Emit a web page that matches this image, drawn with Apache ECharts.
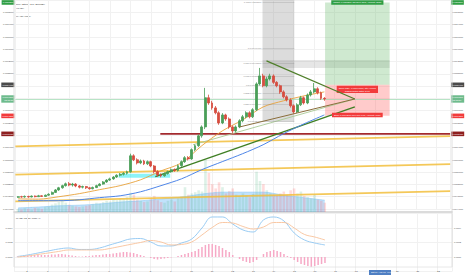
<!DOCTYPE html>
<html>
<head>
<meta charset="utf-8">
<script src="https://cdn.jsdelivr.net/npm/echarts@6.0.0/dist/echarts.min.js"></script>
<style>
html,body{margin:0;padding:0;background:#ffffff;}
#chart{width:466px;height:275px;}
</style>
</head>
<body>
<div id="chart"></div>
<script>
// ---------------- data (NEO/BTC, 4h candles) ----------------
const opens = [0.00478,0.00480,0.00479,0.00481,0.00479,0.00482,0.00480,0.00483,0.00481,0.00485,
0.00488,0.00494,0.00502,0.00509,0.00516,0.00522,0.00518,0.00521,0.00515,0.00511,
0.00513,0.00509,0.00506,0.00510,0.00516,0.00521,0.00528,0.00534,0.00538,0.00544,
0.00550,0.00553,0.00556,0.00561,0.00613,0.00600,0.00590,0.00596,0.00587,0.00594,
0.00580,0.00562,0.00551,0.00548,0.00555,0.00561,0.00568,0.00565,0.00581,0.00594,
0.00607,0.00603,0.00633,0.00646,0.00678,0.00707,0.00802,0.00785,0.00769,0.00753,
0.00720,0.00746,0.00733,0.00707,0.00694,0.00707,0.00727,0.00740,0.00753,0.00740,
0.00763,0.00847,0.00873,0.00841,0.00863,0.00873,0.00852,0.00841,0.00821,0.00805,
0.00795,0.00776,0.00756,0.00779,0.00802,0.00785,0.00811,0.00821,0.00831,0.00818,
0.00800];
const closes = [0.00480,0.00479,0.00481,0.00479,0.00482,0.00480,0.00483,0.00481,0.00485,0.00488,
0.00494,0.00502,0.00509,0.00516,0.00522,0.00518,0.00521,0.00515,0.00511,0.00513,
0.00509,0.00506,0.00510,0.00516,0.00521,0.00528,0.00534,0.00538,0.00544,0.00550,
0.00553,0.00556,0.00561,0.00613,0.00600,0.00590,0.00596,0.00587,0.00594,0.00580,
0.00562,0.00551,0.00548,0.00555,0.00561,0.00568,0.00565,0.00581,0.00594,0.00607,
0.00603,0.00633,0.00646,0.00678,0.00707,0.00802,0.00785,0.00769,0.00753,0.00720,
0.00746,0.00733,0.00707,0.00694,0.00707,0.00727,0.00740,0.00753,0.00740,0.00763,
0.00847,0.00873,0.00841,0.00863,0.00873,0.00852,0.00841,0.00821,0.00805,0.00795,
0.00776,0.00756,0.00779,0.00802,0.00785,0.00811,0.00821,0.00831,0.00818,0.00800,
0.00798];
const lows = [0.00476,0.00477,0.00477,0.00477,0.00478,0.00478,0.00479,0.00479,0.00480,0.00483,
0.00486,0.00492,0.00499,0.00506,0.00513,0.00514,0.00513,0.00511,0.00507,0.00507,
0.00505,0.00503,0.00504,0.00508,0.00514,0.00519,0.00525,0.00531,0.00535,0.00541,
0.00546,0.00549,0.00552,0.00558,0.00596,0.00585,0.00586,0.00583,0.00583,0.00576,
0.00556,0.00545,0.00543,0.00545,0.00552,0.00558,0.00561,0.00562,0.00577,0.00590,
0.00598,0.00600,0.00628,0.00642,0.00672,0.00700,0.00779,0.00763,0.00748,0.00714,
0.00716,0.00727,0.00701,0.00685,0.00689,0.00703,0.00722,0.00735,0.00735,0.00736,
0.00759,0.00842,0.00836,0.00836,0.00858,0.00847,0.00836,0.00815,0.00800,0.00790,
0.00770,0.00750,0.00752,0.00775,0.00780,0.00781,0.00806,0.00816,0.00813,0.00795,
0.00792];
const highs = [0.00482,0.00483,0.00484,0.00483,0.00484,0.00484,0.00486,0.00485,0.00487,0.00491,
0.00497,0.00505,0.00512,0.00519,0.00526,0.00528,0.00525,0.00524,0.00518,0.00516,
0.00515,0.00512,0.00513,0.00519,0.00524,0.00531,0.00537,0.00542,0.00547,0.00553,
0.00557,0.00560,0.00565,0.00620,0.00618,0.00605,0.00601,0.00600,0.00598,0.00597,
0.00583,0.00566,0.00556,0.00559,0.00565,0.00572,0.00572,0.00585,0.00598,0.00612,
0.00612,0.00637,0.00650,0.00683,0.00712,0.00834,0.00812,0.00792,0.00775,0.00758,
0.00752,0.00750,0.00738,0.00712,0.00712,0.00732,0.00746,0.00758,0.00758,0.00768,
0.00852,0.00899,0.00880,0.00870,0.00880,0.00878,0.00856,0.00845,0.00826,0.00810,
0.00800,0.00780,0.00784,0.00808,0.00806,0.00816,0.00827,0.00850,0.00836,0.00822,
0.00804];
const volumes = [5,4,6,5,4,7,6,5,8,9,
12,14,16,18,15,12,10,9,8,9,
10,11,13,15,14,16,18,17,20,19,
22,21,24,31,28,20,18,16,17,22,
26,19,16,15,18,20,17,22,25,40,
28,30,32,35,33,84,63,45,38,48,
40,30,34,38,28,26,30,27,24,29,
65,50,45,35,30,28,26,30,33,28,
35,38,30,33,26,24,22,28,20,18,
15];
// daily samples (every 6th candle)
const ma20 = [0.00473,0.00472,0.00480,0.00490,0.00503,0.00516,0.00535,0.00564,0.00590,0.00646,0.00694,0.00730,0.00772,0.00792,0.00808,0.00821];
const ma50 = [0.00467,0.00467,0.00467,0.00470,0.00477,0.00483,0.00496,0.00516,0.00538,0.00568,0.00594,0.00620,0.00649,0.00685,0.00717,0.00746];
const volumeMA = [6.5,8,10,11,13,16,18,21,24,29,32,32,32,27,23,19];
// MACD (12, 26, close, 9) sampled every 3rd candle
const macdLine = [0.000007,0.000028,0.000055,0.000083,0.000110,0.000124,0.000104,0.000104,0.000124,0.000166,0.000207,0.000248,0.000255,0.000207,0.000152,0.000152,0.000193,0.000248,0.000400,0.000552,0.000552,0.000455,0.000373,0.000345,0.000511,0.000552,0.000497,0.000331,0.000235,0.000193,0.000166];
const signalLine = [0,0.000014,0.000035,0.000055,0.000076,0.000097,0.000097,0.000097,0.000097,0.000117,0.000145,0.000173,0.000200,0.000228,0.000207,0.000166,0.000173,0.000207,0.000304,0.000407,0.000476,0.000469,0.000421,0.000386,0.000414,0.000476,0.000476,0.000400,0.000311,0.000276,0.000235];
const macdHist = [0.000007,0.000014,0.000014,0.000021,0.000021,0.000028,0.000028,0.000028,0.000028,
0.000028,0.000035,0.000035,0.000041,0.000041,0.000035,0.000028,0.000021,0.000014,
0.000007,0.000007,0.000014,0.000014,0.000021,0.000028,0.000028,0.000035,0.000041,
0.000041,0.000048,0.000055,0.000062,0.000069,0.000069,0.000062,0.000055,0.000041,
0.000028,0.000014,0,-0.000014,-0.000028,-0.000035,-0.000028,-0.000021,-0.000014,
-0.000007,0,0.000014,0.000028,0.000041,0.000055,0.000069,0.000083,0.000110,
0.000138,0.000166,0.000179,0.000179,0.000166,0.000152,0.000124,0.000097,0.000069,
0.000028,0,-0.000028,-0.000055,-0.000069,-0.000083,-0.000069,-0.000041,0,
0.000041,0.000069,0.000083,0.000097,0.000083,0.000069,0.000041,0.000014,-0.000014,
-0.000041,-0.000069,-0.000097,-0.000110,-0.000124,-0.000138,-0.000124,-0.000110,-0.000097,
-0.000083];

// drawings: [day of August 2017, price]
const yellowLine1 = [[1.368,0.00644],[22.66,0.00677]];
const yellowLine2 = [[1.368,0.00552],[22.66,0.00586]];
const yellowLine3 = [[1.368,0.00465],[22.66,0.00498]];
const resistanceLine = [[8.466,0.006845],[22.66,0.006845]];
const triangleTop = [[13.667,0.00922],[17.994,0.00798]];
const triangleBottom = [[12.355,0.00707],[17.994,0.00798]];
const sageLine = [[10.07,0.00649],[17.994,0.00798]];
const supportLine = [[8.223,0.00545],[17.994,0.00772]];
const cyanZone = [[6.424,0.00555],[8.952,0.00542]];
const fibRange = [13.473,15.029];
const fibLevels = ['0','0.236','0.382','0.5','0.618','0.786','1','1.618'];
const fibPrices = [0.00724,0.00780,0.00816,0.00844,0.00871,0.00913,0.00964,0.01113];
const fibBand = [[13.473,0.00925],[19.696,0.00899]];
const positionRange = [16.536,19.696];
const targetPrice = 0.01112, entryPrice = 0.00844, stopPrice = 0.00743;
const resistancePrice = 0.006845;

// ---------------- helpers ----------------
const DAY = 86400000, H4 = 4 * 3600000;
const day0 = new Date(2017, 7, 1).getTime();
const t = d => day0 + (d - 1) * DAY;
const candleTimes = opens.map((_, i) => t(1.5) + i * H4);
const dailyTimes = ma20.map((_, k) => candleTimes[k * 6]);
const macdTimes = macdLine.map((_, k) => candleTimes[k * 3]);
const lastClose = closes[closes.length - 1];
const FONT = 'Liberation Sans';
const FS = 2.3;
const px = v => v.toFixed(7);

const X_MIN = t(1.368), X_MAX = t(22.66);
function timeAxis(grid, opts) {
  return Object.assign({
    type: 'time', gridIndex: grid, min: X_MIN, max: X_MAX,
    minInterval: DAY, maxInterval: DAY,
    axisLine: {show: false}, axisTick: {show: false},
    axisLabel: {show: false},
    splitLine: {show: true, lineStyle: {color: '#f1f1f1', width: 1}}
  }, opts || {});
}

function seg(name, pts, color, width, z) {
  return {
    name, type: 'line', xAxisIndex: 0, yAxisIndex: 0,
    data: pts.map(p => [t(p[0]), p[1]]),
    symbol: 'none', silent: true, z: z || 3,
    lineStyle: {color, width}
  };
}

// price tag on both price scales, drawn as a full-width mark line between the axis limits
function tag(value, color, text, lineStyle) {
  const lab = pos => ({
    show: true, position: pos, distance: 1, opacity: 1,
    formatter: text, backgroundColor: color, color: '#ffffff',
    fontSize: FS, fontFamily: FONT, lineHeight: 2.8, padding: [0.9, 1.1]
  });
  const ls = lineStyle || {color: 'rgba(0,0,0,0)', width: 0.1};
  return [
    [{coord: [X_MIN, value], lineStyle: ls, label: lab('end')}, {coord: [X_MAX, value]}],
    [{coord: [X_MIN, value], lineStyle: {color: 'rgba(0,0,0,0)', width: 0.1}, label: lab('start')}, {coord: [X_MAX, value]}]
  ];
}

const posMid = t((positionRange[0] + positionRange[1]) / 2);
const smallLabel = (text, bg) => ({
  show: true, formatter: text, color: '#ffffff', backgroundColor: bg,
  fontSize: FS, fontFamily: FONT, lineHeight: 2.8, padding: [0.8, 2], align: 'center'
});

const option = {
  animation: false,
  backgroundColor: '#ffffff',
  textStyle: {fontFamily: FONT},
  grid: [
    {left: 14, right: 14, top: 0, height: 209},
    {left: 14, right: 14, top: 150, height: 62},
    {left: 14, right: 14, top: 213.5, height: 58},
    {left: 14, right: 14, top: 262, height: 5}
  ],
  xAxis: [
    timeAxis(0),
    timeAxis(1, {splitLine: {show: false}, axisLine: {show: true, lineStyle: {color: '#cfcfcf', width: 1.5}}}),
    timeAxis(2),
    timeAxis(3, {splitLine: {show: false}, axisLabel: {show: true, margin: 2.5, fontSize: 2.5, color: '#555',
      showMinLabel: false, showMaxLabel: false,
      formatter: v => String(new Date(v).getDate())}})
  ],
  yAxis: [
    {type: 'value', gridIndex: 0, position: 'right', min: 0.0044, max: 0.0112, interval: 0.0004,
      axisLine: {show: false}, axisTick: {show: false},
      axisLabel: {margin: 2, fontSize: FS, color: '#4a4a4a', showMaxLabel: false, formatter: px},
      splitLine: {show: true, lineStyle: {color: '#f1f1f1'}}},
    {type: 'value', gridIndex: 0, position: 'left', min: 0.0044, max: 0.0112, interval: 0.0004,
      axisLine: {show: false}, axisTick: {show: false},
      axisLabel: {margin: 1.5, fontSize: FS, color: '#4a4a4a', showMaxLabel: false, formatter: px},
      splitLine: {show: false}},
    {type: 'value', gridIndex: 1, min: 0, max: 100, show: false},
    {type: 'value', gridIndex: 2, position: 'right', min: -0.0002, max: 0.0006, interval: 0.0002,
      axisLine: {show: false}, axisTick: {show: false},
      axisLabel: {margin: 2, fontSize: FS, color: '#4a4a4a', showMinLabel: false, showMaxLabel: false, formatter: v => v.toFixed(4)},
      splitLine: {show: true, lineStyle: {color: '#f1f1f1'}}},
    {type: 'value', gridIndex: 2, position: 'left', min: -0.0002, max: 0.0006, interval: 0.0002,
      axisLine: {show: false}, axisTick: {show: false},
      axisLabel: {margin: 1.5, fontSize: FS, color: '#4a4a4a', showMinLabel: false, showMaxLabel: false, formatter: v => v.toFixed(4)},
      splitLine: {show: false}},
    {type: 'value', gridIndex: 3, show: false}
  ],
  series: [
    // volume
    {name: 'Vol', type: 'bar', xAxisIndex: 1, yAxisIndex: 2, barWidth: 2.6, silent: true, z: 1,
      data: volumes.map((v, i) => ({value: [candleTimes[i], v],
        itemStyle: {color: closes[i] >= opens[i] ? 'rgba(83,185,135,0.2)' : 'rgba(255,82,82,0.2)'}}))},
    {name: 'Vol MA', type: 'line', xAxisIndex: 1, yAxisIndex: 2, smooth: 0.3, symbol: 'none', silent: true, z: 1,
      data: volumeMA.map((v, k) => [dailyTimes[k], v]),
      lineStyle: {width: 0.6, color: '#8cc8f2'}, areaStyle: {color: 'rgba(33,150,243,0.4)'}},
    // long drawings
    seg('trend 1', yellowLine1, 'rgba(242,190,60,0.85)', 1.8),
    seg('trend 2', yellowLine2, 'rgba(242,190,60,0.85)', 1.8),
    seg('trend 3', yellowLine3, 'rgba(242,190,60,0.85)', 1.8),
    seg('resistance', resistanceLine, '#a32a2e', 1.7),
    seg('support', supportLine, '#3f7f24', 1.3),
    seg('sage', sageLine, '#a9c995', 0.9),
    seg('triangle top', triangleTop, '#4f7f2a', 1.2, 6),
    seg('triangle bottom', triangleBottom, '#8a6d3b', 1, 6),
    // moving averages
    {name: 'MA 20', type: 'line', xAxisIndex: 0, yAxisIndex: 0, smooth: 0.3, symbol: 'none', silent: true, z: 4,
      data: ma20.map((v, k) => [dailyTimes[k], v]), lineStyle: {color: '#e8a23a', width: 0.9}},
    {name: 'MA 50', type: 'line', xAxisIndex: 0, yAxisIndex: 0, smooth: 0.3, symbol: 'none', silent: true, z: 4,
      data: ma50.map((v, k) => [dailyTimes[k], v]), lineStyle: {color: '#4f86e8', width: 1}},
    // candles
    {name: 'NEOBTC', type: 'candlestick', xAxisIndex: 0, yAxisIndex: 0, barWidth: 2.4, z: 5,
      encode: {x: 0, y: [1, 2, 3, 4]},
      data: opens.map((o, i) => [candleTimes[i], o, closes[i], lows[i], highs[i]]),
      itemStyle: {color: '#4a9e58', color0: '#d64c3f', borderColor: '#4a9e58', borderColor0: '#d64c3f', borderWidth: 0.8}},
    // drawing tools layer (boxes, fib, price tags)
    {name: 'drawings', type: 'line', xAxisIndex: 0, yAxisIndex: 0, clip: false, silent: true, z: 7,
      data: [[candleTimes[candleTimes.length - 1], lastClose]], symbol: 'none', lineStyle: {opacity: 0},
      markArea: {silent: true, data: [
        [{coord: [t(fibRange[0]), 0.0112], itemStyle: {color: 'rgba(128,128,128,0.28)'}}, {coord: [t(fibRange[1]), fibPrices[0]]}],
        [{coord: [t(fibBand[0][0]), fibBand[0][1]], itemStyle: {color: 'rgba(128,128,128,0.2)'}}, {coord: [t(fibBand[1][0]), fibBand[1][1]]}],
        [{coord: [t(positionRange[0]), targetPrice], itemStyle: {color: 'rgba(76,175,80,0.27)'}}, {coord: [t(positionRange[1]), entryPrice]}],
        [{coord: [t(positionRange[0]), entryPrice], itemStyle: {color: 'rgba(255,82,82,0.3)'}}, {coord: [t(positionRange[1]), stopPrice]}],
        [{coord: [t(cyanZone[0][0]), cyanZone[0][1]], itemStyle: {color: 'rgba(0,229,240,0.45)'}}, {coord: [t(cyanZone[1][0]), cyanZone[1][1]]}]
      ]},
      markLine: {silent: true, symbol: ['none', 'none'], data: [].concat(
        tag(targetPrice, '#2f9e44', px(targetPrice)),
        tag(entryPrice, '#4a4a4a', px(entryPrice)),
        tag(lastClose, '#6dbb8c', px(lastClose) + '\n02:15:31', {color: '#9ad8ae', width: 0.7, type: 'solid'}),
        tag(stopPrice, '#f23b3b', px(stopPrice)),
        tag(resistancePrice, '#8e1f1f', px(resistancePrice)),
        fibLevels.map((lv, k) => [
          {coord: [t(fibRange[0]), fibPrices[k]], lineStyle: {color: 'rgba(120,120,120,0.45)', width: 0.5, type: 'solid'},
            label: {show: true, position: 'start', distance: 1, formatter: lv + '(' + px(fibPrices[k]) + ')',
              color: '#8a8a8a', fontSize: FS, fontFamily: FONT}},
          {coord: [t(fibRange[1]), fibPrices[k]]}
        ])
      )},
      markPoint: {silent: true, symbol: 'rect', symbolSize: 0, data: [
        {coord: [posMid, targetPrice], label: smallLabel('Target: ' + px(targetPrice) + ' (31.75%) 268, Amount: 2680', '#2f9e44')},
        {coord: [posMid, 0.00829], label: smallLabel('Open P&L: -0.00046000, Qty: 10000\nRisk/Reward Ratio: 2.67', '#f23b3b')},
        {coord: [posMid, 0.00746], label: smallLabel('Stop: ' + px(stopPrice) + ' (11.97%) 101, Amount: 1010', '#f23b3b')}
      ]}
    },
    // MACD
    {name: 'Histogram', type: 'bar', xAxisIndex: 2, yAxisIndex: 3, barWidth: 1.5, silent: true,
      data: macdHist.map((v, i) => [candleTimes[i], v]), itemStyle: {color: '#f6a9c6'}},
    {name: 'MACD', type: 'line', xAxisIndex: 2, yAxisIndex: 3, smooth: 0.4, symbol: 'none', silent: true,
      data: macdLine.map((v, k) => [macdTimes[k], v]), lineStyle: {color: '#8ec6f2', width: 0.9}},
    {name: 'Signal', type: 'line', xAxisIndex: 2, yAxisIndex: 3, smooth: 0.4, symbol: 'none', silent: true,
      data: signalLine.map((v, k) => [macdTimes[k], v]), lineStyle: {color: '#f8c29a', width: 0.9}}
  ],
  graphic: [
    {type: 'line', shape: {x1: 14, y1: 0, x2: 14, y2: 267}, style: {stroke: '#d8d8d8', lineWidth: 0.8}, z: 10},
    {type: 'line', shape: {x1: 452, y1: 0, x2: 452, y2: 267}, style: {stroke: '#d8d8d8', lineWidth: 0.8}, z: 10},
    {type: 'line', shape: {x1: 14, y1: 267, x2: 452, y2: 267}, style: {stroke: '#e2e2e2', lineWidth: 0.8}, z: 10},
    {type: 'text', left: 16, top: 2.8, style: {text: 'Neo / Bitcoin, 240, BITTREX', fontSize: FS, fontFamily: FONT, fill: '#333'}},
    {type: 'text', left: 16, top: 6.8, style: {text: 'Vol (20)', fontSize: FS, fontFamily: FONT, fill: '#333'}},
    {type: 'text', left: 16, top: 10.8, style: {text: 'MA (20, close)', fontSize: FS, fontFamily: FONT, fill: '#333'}},
    {type: 'text', left: 16, top: 14.8, style: {text: 'MA (50, close)', fontSize: FS, fontFamily: FONT, fill: '#333'}},
    {type: 'text', left: 16, top: 216.8, style: {text: 'MACD (12, 26, close, 9)', fontSize: FS, fontFamily: FONT, fill: '#333'}},
    {type: 'rect', left: 369, top: 270, shape: {width: 22, height: 5}, style: {fill: '#4f7fc3'}, z: 11},
    {type: 'text', left: 371, top: 271.3, style: {text: "Sat 19 Aug '17  04:00", fontSize: FS, fontFamily: FONT, fill: '#ffffff'}, z: 12}
  ]
};

const chart = echarts.init(document.getElementById('chart'), null, {renderer: 'svg'});
chart.setOption(option);
</script>
</body>
</html>
